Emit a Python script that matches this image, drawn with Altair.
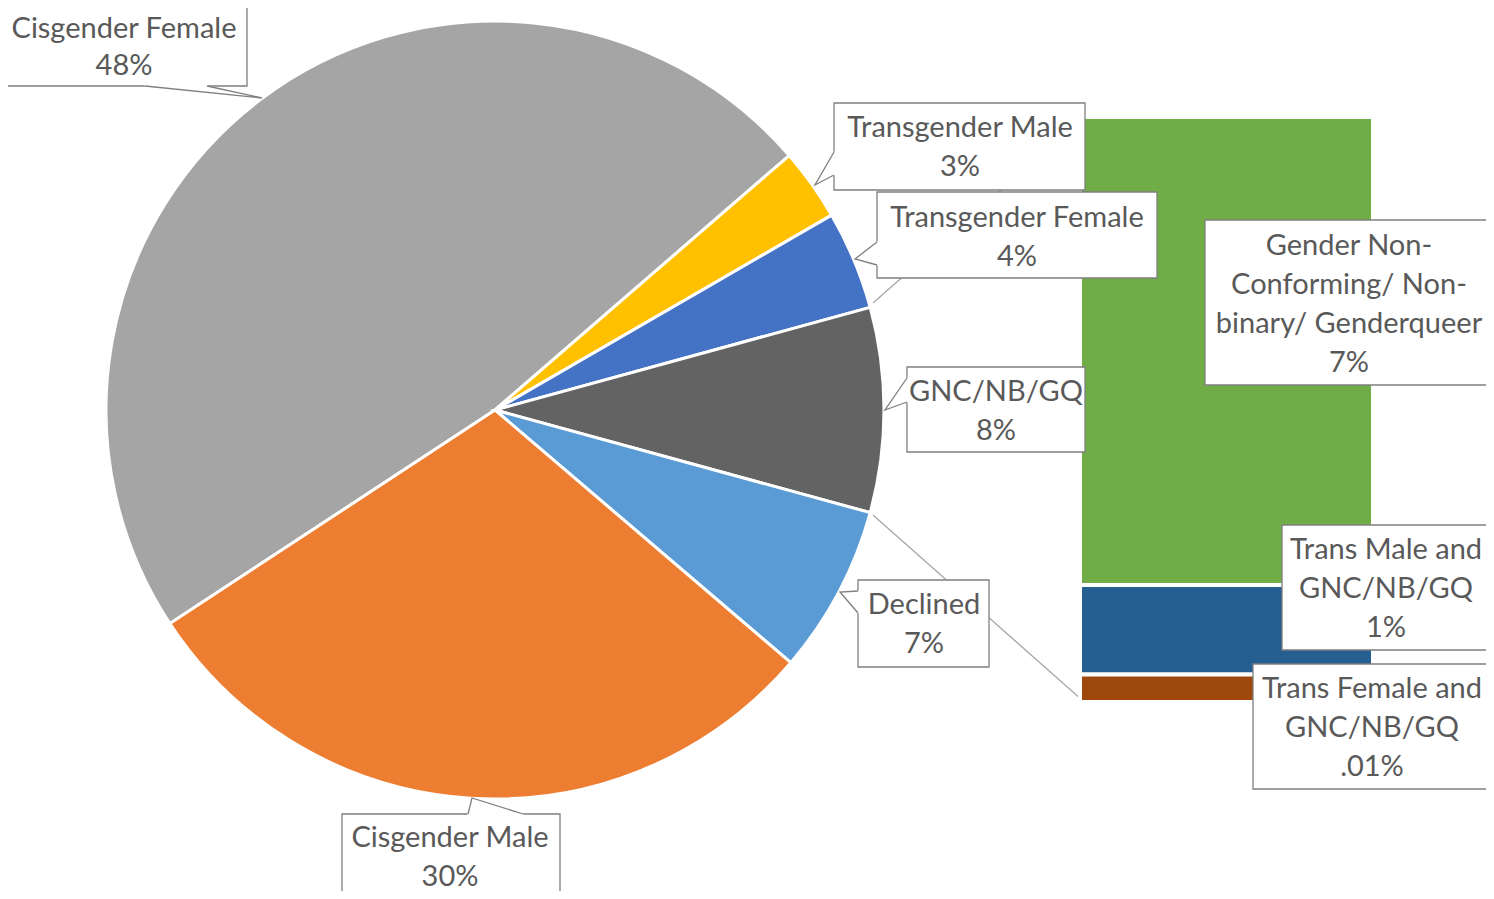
import math
import altair as alt
import pandas as pd

# ---------------- data ----------------
pie_cats = ["Cisgender Female", "Transgender Male", "Transgender Female",
            "GNC/NB/GQ", "Declined", "Cisgender Male"]
pie_values = [47.9, 3.0, 4.1, 8.5, 7.0, 29.5]
pie_pct = ["48%", "3%", "4%", "8%", "7%", "30%"]

bar_cats = ["Gender Non-Conforming/ Non-binary/ Genderqueer",
            "Trans Male and GNC/NB/GQ",
            "Trans Female and GNC/NB/GQ"]
bar_values = [6.8, 1.3, 0.4]
bar_pct = ["7%", "1%", ".01%"]

# label lines as shown in the callouts
pie_label_lines = [["Cisgender Female"], ["Transgender Male"], ["Transgender Female"],
                   ["GNC/NB/GQ"], ["Declined"], ["Cisgender Male"]]
bar_label_lines = [["Gender Non-", "Conforming/ Non-", "binary/ Genderqueer"],
                   ["Trans Male and", "GNC/NB/GQ"],
                   ["Trans Female and", "GNC/NB/GQ"]]

# ---------------- styles ----------------
pie_colors = ["#A5A5A5", "#FFC000", "#4472C4", "#636363", "#5B9BD5", "#ED7D31"]
bar_colors = ["#70AD47", "#255E91", "#9E480E"]
TEXT = "#595959"
BORDER = "#7F7F7F"
FONT = "Lato"
FS = 29
LH = 39

# ---------------- layout (image pixel coords) ----------------
W, H, OFF = 1478, 883, 8
CX, CY, R = 495, 410, 389
START = math.radians(236.7)

xs = alt.Scale(domain=[OFF, W + OFF], range=[0, W], nice=False, zero=False)
ys = alt.Scale(domain=[OFF, H + OFF], range=[0, H], nice=False, zero=False)

# callouts: box, text centre x, first line y, line spacing, pointer (base1, tip, base2), side
callouts = [
    dict(box=(-3, -3, 247, 86), cx=124, y0=29, lh=37, ptr=[(145, 86), (262, 98), (207, 86)], side="bottom"),
    dict(box=(834, 103, 1085, 190), cx=960, y0=128, lh=LH, ptr=[(834, 152), (815, 185), (834, 175)], side="left"),
    dict(box=(877, 192, 1157, 278), cx=1017, y0=218, lh=LH, ptr=[(877, 242), (855, 259), (877, 265)], side="left"),
    dict(box=(907, 367, 1085, 452), cx=996, y0=392, lh=LH, ptr=[(907, 378), (885, 410), (907, 402)], side="left"),
    dict(box=(858, 580, 989, 667), cx=924, y0=605, lh=LH, ptr=[(858, 591), (840, 592), (858, 613)], side="left"),
    dict(box=(342, 814, 560, 915), cx=450, y0=838, lh=LH, ptr=[(468, 814), (472, 798), (523, 814)], side="top"),
    dict(box=(1205, 220, 1510, 385), cx=1349, y0=246, lh=LH, ptr=None, side=None),
    dict(box=(1282, 525, 1510, 650), cx=1386, y0=550, lh=LH, ptr=None, side=None),
    dict(box=(1253, 664, 1510, 789), cx=1372, y0=689, lh=LH, ptr=None, side=None),
]
connectors = [((873, 303), (1082, 119)), ((873, 515), (1082, 700))]
BAR_X0, BAR_X1, BAR_TOP, BAR_BOT = 1080, 1373, 117, 702

# ---------------- tables ----------------
pie_df = pd.DataFrame({"cat": pie_cats, "value": pie_values,
                       "idx": list(range(len(pie_cats))), "col": pie_colors})
bar_df = pd.DataFrame({"cat": bar_cats, "value": bar_values,
                       "ord": [2, 1, 0], "col": bar_colors})

all_lines = [l + [p] for l, p in zip(pie_label_lines, pie_pct)] + \
            [l + [p] for l, p in zip(bar_label_lines, bar_pct)]

box_rows, text_rows, fill_rows, stroke_rows = [], [], [], []
for i, (c, lines) in enumerate(zip(callouts, all_lines)):
    x0, y0, x1, y1 = c["box"]
    box_rows.append(dict(id=i, x0=x0, y0=y0, x1=x1, y1=y1))
    for j, t in enumerate(lines):
        text_rows.append(dict(id=i, t=t, x=c["cx"], y=c["y0"] + j * c["lh"]))
    if c["ptr"]:
        b1, tip, b2 = c["ptr"]
        dx, dy = {"left": (3, 0), "bottom": (0, -3), "top": (0, 3)}[c["side"]]
        poly = [b1, tip, b2, (b2[0] + dx, b2[1] + dy), (b1[0] + dx, b1[1] + dy)]
        for k, (px, py) in enumerate(poly):
            fill_rows.append(dict(id=i, k=k, x=px, y=py))
        for k, (px, py) in enumerate([b1, tip, b2]):
            stroke_rows.append(dict(id=i, k=k, x=px, y=py))

box_df = pd.DataFrame(box_rows)
text_df = pd.DataFrame(text_rows)
fill_df = pd.DataFrame(fill_rows)
stroke_df = pd.DataFrame(stroke_rows)
conn_df = pd.DataFrame([dict(x=a[0], y=a[1], x2=b[0], y2=b[1]) for a, b in connectors])

# ---------------- layers ----------------
pie = alt.Chart(pie_df).mark_arc(radius=R, stroke="white", strokeWidth=3).encode(
    theta=alt.Theta("value:Q", stack=True,
                    scale=alt.Scale(range=[START, START + 2 * math.pi])),
    color=alt.Color("col:N", scale=None, legend=None),
    order=alt.Order("idx:Q"),
    x=alt.value(CX - OFF),
    y=alt.value(CY - OFF),
)

conn = alt.Chart(conn_df).mark_rule(color="#A6A6A6", strokeWidth=1.3).encode(
    x=alt.X("x:Q", scale=xs, axis=None), y=alt.Y("y:Q", scale=ys, axis=None),
    x2="x2:Q", y2="y2:Q",
)

bar = alt.Chart(bar_df).transform_stack(
    stack="value", groupby=[], as_=["v0", "v1"],
    sort=[alt.SortField("ord", order="ascending")],
).mark_rect(stroke="white", strokeWidth=4).encode(
    x=alt.value(BAR_X0 - OFF), x2=alt.value(BAR_X1 - OFF),
    y=alt.Y("v0:Q", axis=None,
            scale=alt.Scale(domain=[0, sum(bar_values)],
                            range=[BAR_BOT - OFF, BAR_TOP - OFF], nice=False, zero=False)),
    y2="v1:Q",
    color=alt.Color("col:N", scale=None, legend=None),
)

boxes = alt.Chart(box_df).mark_rect(fill="white", stroke=BORDER, strokeWidth=1.3).encode(
    x=alt.X("x0:Q", scale=xs, axis=None), x2="x1:Q",
    y=alt.Y("y0:Q", scale=ys, axis=None), y2="y1:Q",
)

pfill = alt.Chart(fill_df).mark_line(fill="white", stroke="white", strokeWidth=1,
                                     interpolate="linear-closed").encode(
    x=alt.X("x:Q", scale=xs, axis=None), y=alt.Y("y:Q", scale=ys, axis=None),
    detail="id:N", order="k:Q",
)

pstroke = alt.Chart(stroke_df).mark_line(color=BORDER, strokeWidth=1.3).encode(
    x=alt.X("x:Q", scale=xs, axis=None), y=alt.Y("y:Q", scale=ys, axis=None),
    detail="id:N", order="k:Q",
)

texts = alt.Chart(text_df).mark_text(font=FONT, fontSize=FS, color=TEXT,
                                     align="center", baseline="middle").encode(
    x=alt.X("x:Q", scale=xs, axis=None), y=alt.Y("y:Q", scale=ys, axis=None),
    text="t:N",
)

chart = alt.layer(pie, conn, bar, boxes, pfill, pstroke, texts).resolve_scale(
    y="independent"
).properties(
    width=W, height=H, padding=0,
    autosize=alt.AutoSizeParams(type="none"),
).configure_view(strokeWidth=0)

chart.save("out.html", embed_options={"renderer": "svg", "actions": False})
